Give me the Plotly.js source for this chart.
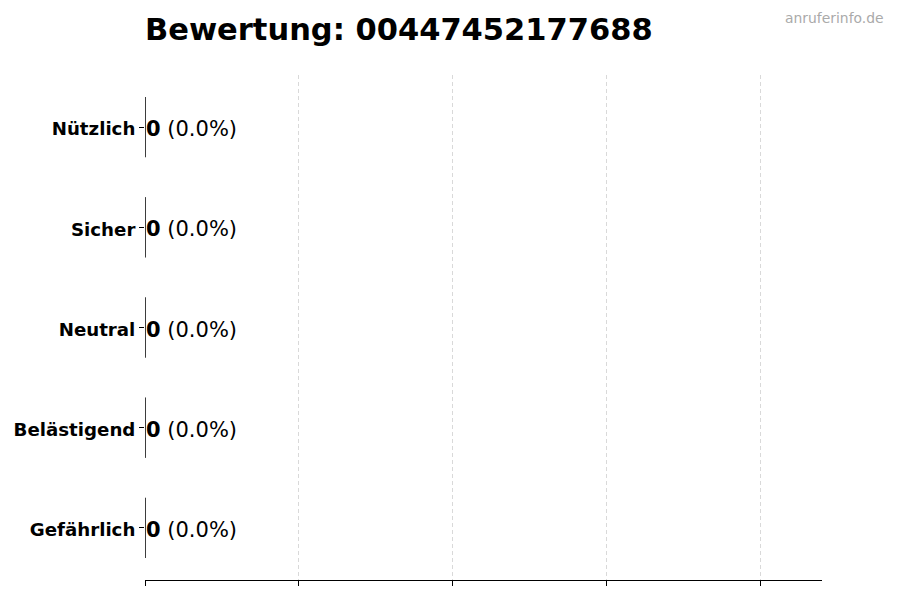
<!DOCTYPE html>
<html>
<head>
<meta charset="utf-8">
<script src="https://cdn.plot.ly/plotly-3.0.1.min.js"></script>
<style>
  html, body { margin: 0; padding: 0; background: #fff; }
  #chart { width: 900px; height: 600px; }
</style>
</head>
<body>
<div id="chart"></div>
<script>
// ratings, bottom to top
var categories = ['Gefährlich', 'Belästigend', 'Neutral', 'Sicher', 'Nützlich'];
var counts = [0, 0, 0, 0, 0];
var percents = [0.0, 0.0, 0.0, 0.0, 0.0];
var phoneNumber = '00447452177688';

var font = 'DejaVu Sans, sans-serif';

var bars = {
  type: 'bar',
  orientation: 'h',
  x: counts,
  y: categories,
  width: 0.6,
  marker: { color: '#4c72b0', line: { color: '#222', width: 1 } },
  hoverinfo: 'skip'
};

// zero-length bars: draw their edge as a vertical line marker
var edges = {
  type: 'scatter',
  mode: 'markers',
  x: counts,
  y: categories,
  marker: { symbol: 'line-ns', size: 43, line: { color: '#222', width: 1 } },
  hoverinfo: 'skip'
};

var labels = categories.map(function (c, i) {
  return {
    x: counts[i], y: c,
    xref: 'x', yref: 'y',
    xanchor: 'left', yanchor: 'middle', xshift: -1, yshift: -2,
    text: '<b>' + counts[i] + '</b> (' + percents[i].toFixed(1) + '%)',
    showarrow: false,
    font: { family: font, size: 21, color: '#000' }
  };
});

labels.push({
  x: 1, xref: 'paper', xanchor: 'right', xshift: 64,
  y: 1, yref: 'paper', yanchor: 'bottom', yshift: 47,
  text: 'anruferinfo.de', showarrow: false,
  font: { family: font, size: 13.9, color: '#aaaaaa' }
});

var layout = {
  width: 900, height: 600,
  margin: { l: 145, r: 78, t: 75, b: 20 },
  paper_bgcolor: '#fff', plot_bgcolor: '#fff',
  showlegend: false,
  font: { family: font, color: '#000' },
  title: {
    text: '<b>Bewertung: ' + phoneNumber + '</b>',
    font: { family: font, size: 30.5, color: '#000' },
    x: 0, xref: 'paper', xanchor: 'left',
    y: 1, yref: 'container', yanchor: 'top', pad: { t: 19 }
  },
  xaxis: {
    range: [0, 4.4], dtick: 1, tick0: 0,
    showticklabels: false,
    ticks: 'outside', ticklen: 5, tickcolor: '#000', tickwidth: 1,
    showline: true, linecolor: '#000', linewidth: 1,
    showgrid: true, gridcolor: '#d9d9d9', griddash: '4px,3px', gridwidth: 1,
    zeroline: false, fixedrange: true
  },
  yaxis: {
    type: 'category',
    categoryorder: 'array', categoryarray: categories,
    range: [-0.52, 4.52],
    ticks: 'outside', ticklen: 5, tickcolor: '#000', tickwidth: 1,
    ticklabelshift: 2,
    showline: false, showgrid: false, zeroline: false,
    tickfont: { family: font, size: 18.2, color: '#000', weight: 'bold' },
    fixedrange: true
  },
  annotations: labels
};

Plotly.newPlot('chart', [bars, edges], layout, { displayModeBar: false, staticPlot: true });
</script>
</body>
</html>
